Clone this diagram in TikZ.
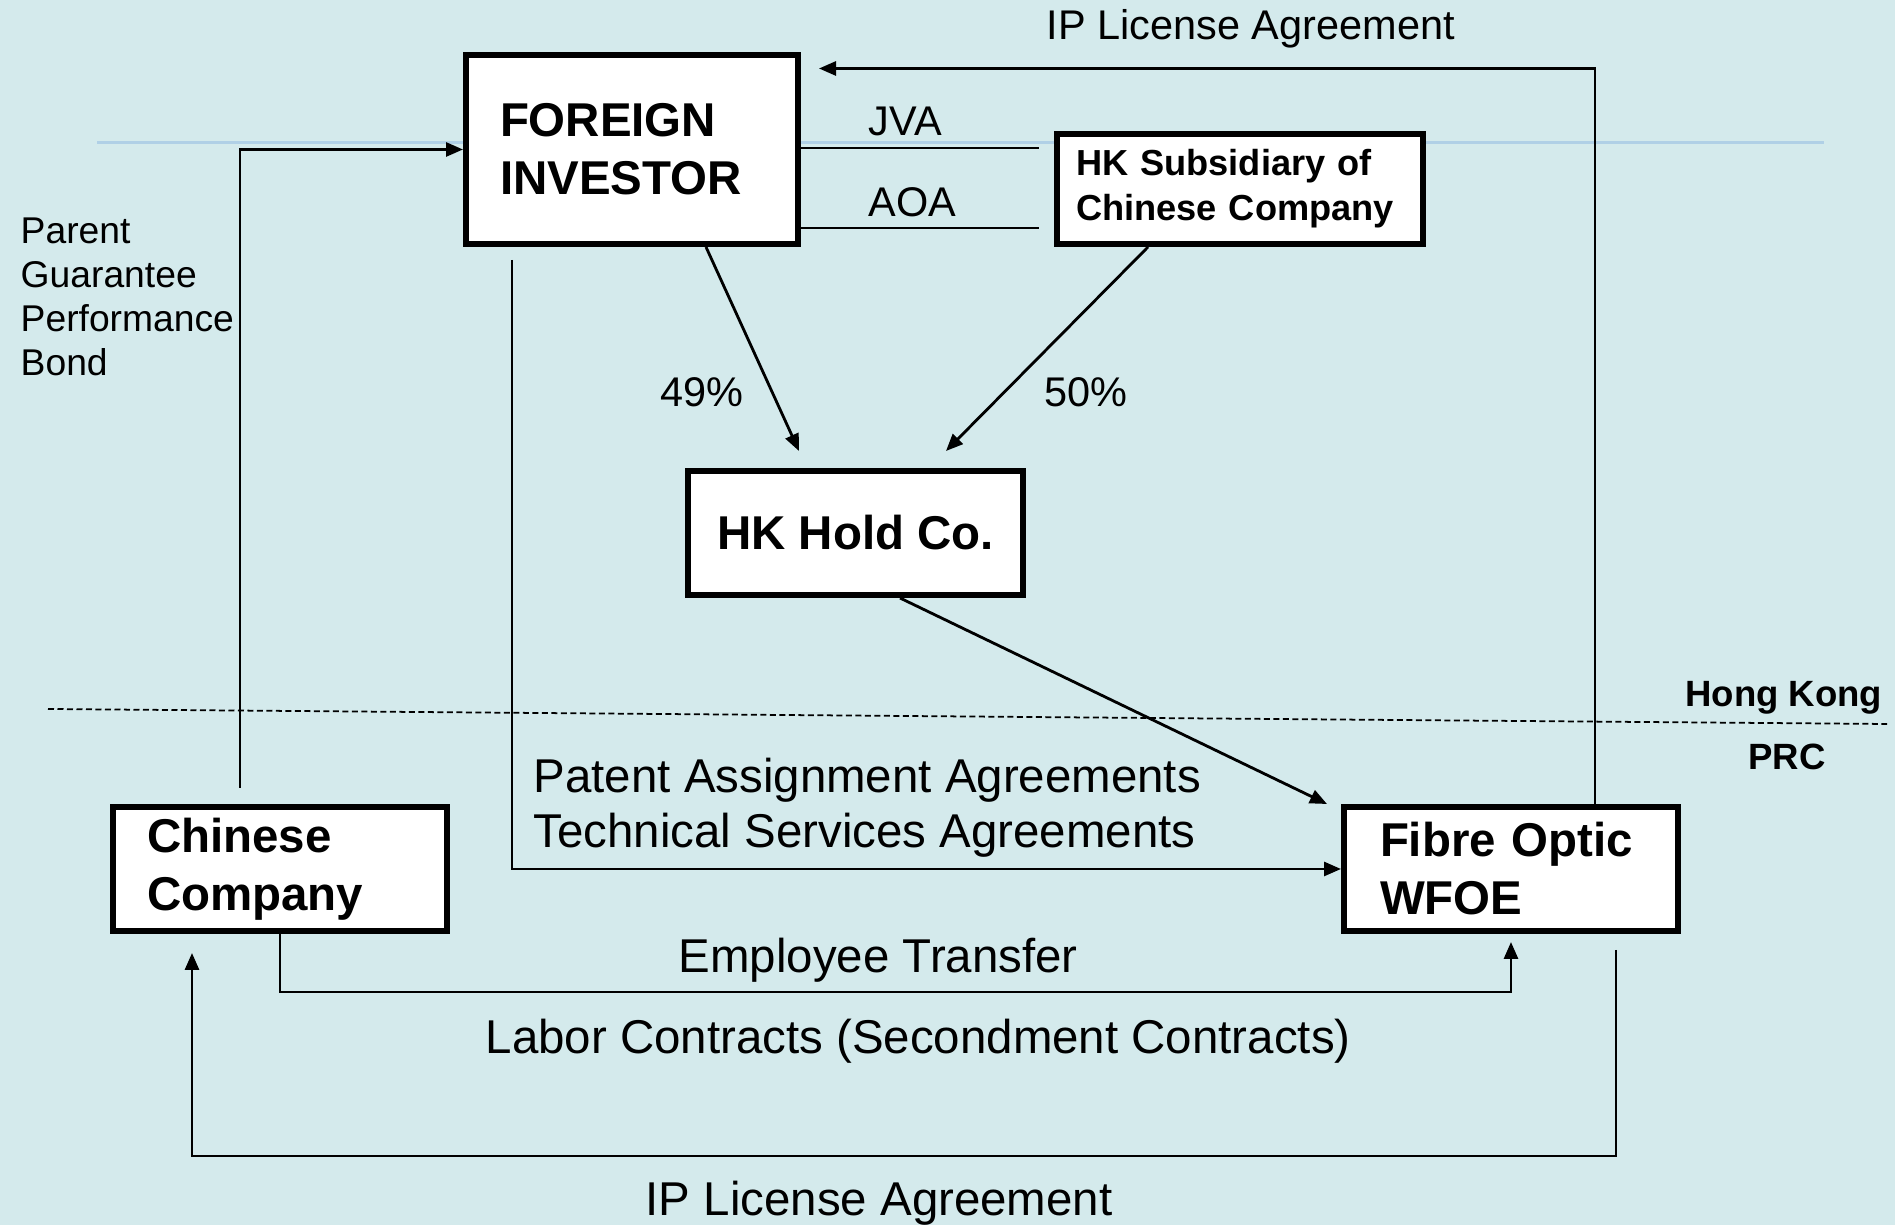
\documentclass[tikz,border=0pt]{standalone}
\usepackage{fontspec}
\setmainfont{Liberation Sans}
\usetikzlibrary{arrows.meta}
\definecolor{slidebg}{RGB}{212,234,236}
\definecolor{rulerblue}{RGB}{176,208,230}

\begin{document}
\begin{tikzpicture}[
        box/.style={draw,line width=0.06cm,fill=white,inner ysep=0pt,align=left},
        bigbold/.style={font=\bfseries\fontsize{13.5}{16.5}\selectfont},
        smallbold/.style={font=\bfseries\fontsize{10.3}{12.8}\selectfont},
        lbl/.style={font=\fontsize{13.5}{15.9}\selectfont,inner sep=0pt},
        smalllbl/.style={font=\fontsize{11.8}{14}\selectfont,inner sep=0pt},
        link/.style={line width=0.8pt},
        arr/.style={link,-{Triangle[length=0.17cm,width=0.14cm]}}]
        \fill[slidebg](0,0)rectangle(18.95,-12.25);
        \useasboundingbox(0,0)rectangle(18.95,-12.25);
        \draw[rulerblue,line width=0.03cm](0.97,-1.43)--(18.24,-1.43);

        % parties
        \node[box,bigbold,minimum width=3.32cm,minimum height=1.89cm,text width=2.64cm,inner xsep=0.34cm](fi)at(6.32,-1.495){FOREIGN\\INVESTOR};
        \node[box,smallbold,minimum width=3.66cm,minimum height=1.10cm,text width=3.28cm,inner xsep=0.19cm](hksub)at(12.40,-1.89){HK Subsidiary of\\Chinese Company};
        \node[box,bigbold,minimum width=3.35cm,minimum height=1.24cm,align=center](hold)at(8.555,-5.33){HK Hold Co.};
        \node[box,bigbold,minimum width=3.34cm,minimum height=1.24cm,text width=2.66cm,inner xsep=0.34cm](cc)at(2.80,-8.69){Chinese\\Company};
        \node[box,bigbold,minimum width=3.34cm,minimum height=1.24cm,text width=2.62cm,inner xsep=0.36cm](wfoe)at(15.11,-8.69){Fibre Optic\\WFOE};

        % free ends
        \coordinate(iptop)at(15.95,-0.685);
        \coordinate(pgstart)at(2.40,-7.88);
        \coordinate(jvaend)at(10.39,-1.48);
        \coordinate(aoaend)at(10.39,-2.28);
        \coordinate(fitip)at(7.99,-4.51);
        \coordinate(subtip)at(9.46,-4.51);
        \coordinate(holdtip)at(13.27,-8.04);
        \coordinate(patstart)at(5.12,-2.60);
        \coordinate(ipstart)at(16.16,-9.50);
        \coordinate(iplow)at(1.92,-11.56);

        \draw[arr,shorten >=0.18cm](wfoe.north-|iptop)|-(fi.east|-iptop);
        \draw[arr](pgstart)|-(fi.west);
        \draw[link](fi.east|-jvaend)--(jvaend);
        \draw[link](fi.east|-aoaend)--(aoaend);
        \draw[arr]([xshift=0.74cm]fi.south)--(fitip);
        \draw[arr]([xshift=-0.92cm]hksub.south)--(subtip);
        \draw[arr]([xshift=0.445cm]hold.south)--(holdtip);
        \draw[arr](patstart)|-(wfoe.west);
        \draw[arr,shorten >=0.08cm](cc.south)--++(0,-0.58)-|(wfoe.south);
        \draw[arr,shorten >=0.19cm](ipstart)|-(iplow)--(cc.south-|iplow);

        % border line
        \draw[line width=0.5pt,dash pattern=on 0.06cm off 0.035cm](0.48,-7.09)--(18.87,-7.24);

        % labels
        \node[smalllbl,anchor=base west](iptoplbl)at(10.46,-0.40){IP License Agreement};
        \node[smalllbl,anchor=base west](jva)at(8.68,-1.36){JVA};
        \node[smalllbl,anchor=base west](aoa)at(8.68,-2.17){AOA};
        \node[smalllbl,anchor=base](pct49)at(7.02,-4.07){49\%};
        \node[smalllbl,anchor=base](pct50)at(10.86,-4.07){50\%};
        \node[font=\fontsize{10.6}{12.5}\selectfont,inner sep=0pt,anchor=north west,align=left](pglbl)at(0.20,-2.17){Parent\\Guarantee\\Performance\\Bond};
        \node[lbl,anchor=north west,align=left](patlbl)at(5.33,-7.57){Patent Assignment Agreements\\Technical Services Agreements};
        \node[lbl,anchor=base west](etlbl)at(6.78,-9.73){Employee Transfer};
        \node[lbl,anchor=base west](laborlbl)at(4.85,-10.54){Labor Contracts (Secondment Contracts)};
        \node[lbl,anchor=base west](ipbotlbl)at(6.45,-12.16){IP License Agreement};
        \node[font=\bfseries\fontsize{10.4}{12}\selectfont,inner sep=0pt,anchor=base east](hk)at(18.83,-7.07){Hong Kong};
        \node[font=\bfseries\fontsize{10.4}{12}\selectfont,inner sep=0pt,anchor=base](prc)at(17.87,-7.70){PRC};

    \end{tikzpicture}
\end{document}
